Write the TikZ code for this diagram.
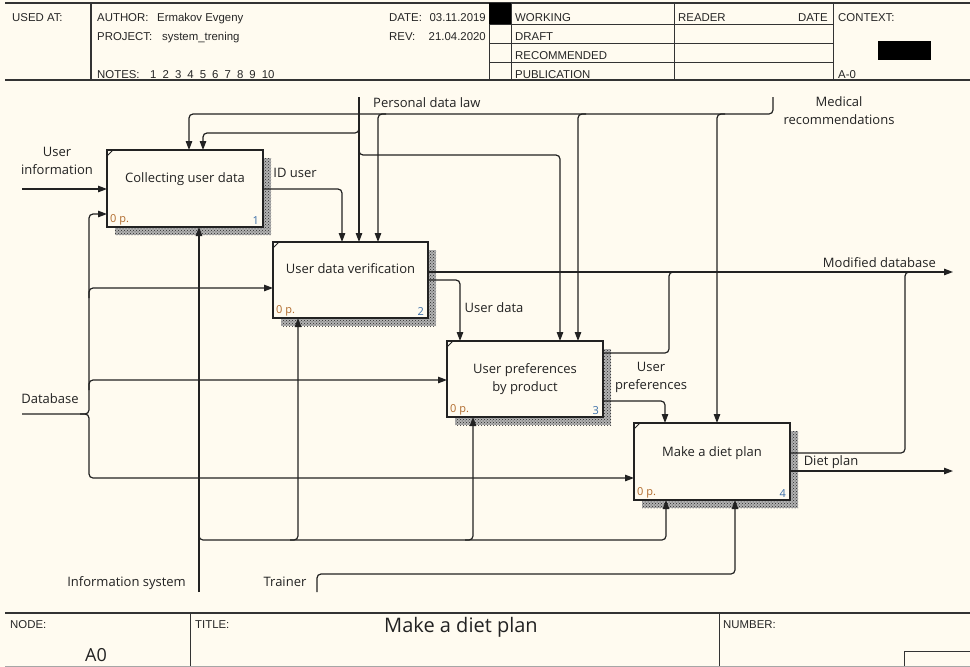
\documentclass[tikz,border=0pt]{standalone}
\usepackage{fontspec}
\setmainfont{Open Sans}
\newfontfamily\hdfont{Liberation Sans}
\usetikzlibrary{arrows.meta,patterns,calc}
\definecolor{bgc}{HTML}{FFFBF0}
\definecolor{ink}{HTML}{222222}
\definecolor{npcol}{HTML}{B06A2C}
\definecolor{nmcol}{HTML}{3B6EA8}
\newcommand\hdsize{\hdfont\fontsize{11.4}{13}\selectfont}
\newcommand\lbsize{\fontsize{13}{18}\selectfont}
\newcommand\npsize{\fontsize{11}{13}\selectfont}
\begin{document}
\begin{tikzpicture}[x=1pt,y=-1pt,
  ln/.style={line width=1.2pt, draw=ink, rounded corners=4pt},
  arr/.style={ln, -{Triangle[length=9pt,width=6.5pt]}},
  box/.style={draw=ink, line width=1.2pt, fill=bgc, inner sep=0pt, outer sep=0pt, text=ink, font=\lbsize, align=center},
  lbl/.style={inner sep=0pt, text=ink, font=\lbsize, align=center},
  hd/.style={inner sep=0pt, text=black!85, font=\hdsize, anchor=base west},
  hde/.style={hd, anchor=base east},
  hl/.style={draw=black!80, line width=0.8pt},
  hk/.style={draw=black!80, line width=1.4pt},
  shd/.style={pattern=crosshatch dots, pattern color=black!85},
  np/.style={inner sep=0pt, font=\npsize, text=npcol, anchor=south west},
  nm/.style={inner sep=0pt, font=\npsize, text=nmcol, anchor=south east},
  crn/.style={draw=ink, line width=0.8pt}
]
\useasboundingbox (0,0) rectangle (970,667);
\fill[bgc] (0,0) rectangle (970,667);

% ---------- header ----------
\draw[hk] (5,3) -- (970,3);
\draw[hk] (5,80) -- (970,80);
\draw[hk] (91,3) -- (91,80);
\draw[hl] (489,3) -- (489,80);
\draw[hl] (511,3) -- (511,80);
\draw[hl] (674,3) -- (674,80);
\draw[hl] (833,3) -- (833,80);
\foreach \yy in {24,43,62} \draw[hl] (489,\yy) -- (833,\yy);
\fill[black] (489,3) rectangle (511,24);
\fill[black] (878,41) rectangle (931,60);

\node[hd] (hUsed) at (12,21.5) {USED AT:};
\node[hd] (hAuth) at (97,21.5) {AUTHOR:};
\node[hd] (hAuthV) at (157,21.5) {Ermakov Evgeny};
\node[hd] (hProj) at (97,40) {PROJECT:};
\node[hd] (hProjV) at (162,40) {system\_trening};
\node[hd] (hNotes) at (97,78) {NOTES:};
\foreach \k [count=\i from 0] in {1,2,3,4,5,6,7,8,9,10}
  \node[hd] (hN\k) at (150+12.4*\i,78) {\k};
\node[hd] (hDate) at (389,21.5) {DATE:};
\node[hde] (hDateV) at (486,21.5) {03.11.2019};
\node[hd] (hRev) at (389,40) {REV:};
\node[hde] (hRevV) at (486,40) {21.04.2020};
\node[hd] (hWork) at (515,21.5) {WORKING};
\node[hd] (hDraft) at (515,40) {DRAFT};
\node[hd] (hRec) at (515,59) {RECOMMENDED};
\node[hd] (hPub) at (515,78) {PUBLICATION};
\node[hd] (hReader) at (678,21.5) {READER};
\node[hde] (hRDate) at (828,21.5) {DATE};
\node[hd] (hCtx) at (838,21.5) {CONTEXT:};
\node[hd] (hA0) at (838,78) {A-0};

% ---------- footer ----------
\draw[hk] (5,613) -- (970,613);
\draw[hl] (190,613) -- (190,667);
\draw[hl] (719,613) -- (719,667);
\draw[hl] (904,667) -- (904,651) -- (970,651);
\draw[black!35, line width=0.8pt] (5,666) -- (970,666);
\node[hd] (fNode) at (10,628) {NODE:};
\node[hd] (fTitle) at (195,628) {TITLE:};
\node[hd] (fNum) at (723,628) {NUMBER:};
\node[inner sep=0pt, text=ink, font=\fontsize{18}{20}\selectfont] (fA0) at (96,655) {A0};
\node[inner sep=0pt, text=ink, font=\fontsize{20}{22}\selectfont] (fMain) at (461,627) {Make a diet plan};

% ---------- shadows ----------
\fill[black!30] (115,158) rectangle (271,235);
\fill[shd] (115,158) rectangle (271,235);
\fill[black!30] (281,250) rectangle (436,326);
\fill[shd] (281,250) rectangle (436,326);
\fill[black!30] (455,349) rectangle (611,425);
\fill[shd] (455,349) rectangle (611,425);
\fill[black!30] (642,431) rectangle (798,508);
\fill[shd] (642,431) rectangle (798,508);

% ---------- boxes ----------
\node[box, minimum width=156pt, minimum height=77pt] (B1) at (185,188.5) {Collecting user data\\[4pt]};
\node[box, minimum width=155pt, minimum height=76pt] (B2) at (350.5,280) {User data verification\\[4pt]};
\node[box, minimum width=156pt, minimum height=76pt] (B3) at (525,379) {User preferences\\by product};
\node[box, minimum width=156pt, minimum height=77pt] (B4) at (712,461.5) {Make a diet plan\\[2pt]};

\foreach \b/\n in {B1/1,B2/2,B3/3,B4/4}{
  \draw[crn] ($(\b.north west)+(0,6)$) -- ($(\b.north west)+(6,0)$);
  \node[np] (\b p) at ($(\b.south west)+(3,-2)$) {0 p.};
  \node[nm] (\b n) at ($(\b.south east)+(-4,-2)$) {\n};
}

% ---------- free ends ----------
\coordinate (uiS) at (22,189);
\coordinate (pdS) at (359,97);
\coordinate (mrS) at (773,97);
\coordinate (dbS) at (22,414);
\coordinate (isS) at (199,592);
\coordinate (trS) at (317,592);
\coordinate (mdE) at (953,272);
\coordinate (dpE) at (953,471);

% ---------- connectors ----------
% User information
\draw[arr] (uiS) -- (B1.west |- uiS);
% Personal data law
\draw[arr] (pdS) -- (pdS |- B2.north);
\draw[arr] (359,122) -- (359,133) -- (203,133) -- (203,0 |- B1.north);
\draw[arr] (359,145) -- (359,155) -- (560,155) -- (560,0 |- B3.north);
% Medical recommendations
\draw[arr] (mrS) -- (773,114) -- (189,114) -- (189,0 |- B1.north);
\draw[arr] (386,114) -- (378,114) -- (378,0 |- B2.north);
\draw[arr] (586,114) -- (578,114) -- (578,0 |- B3.north);
\draw[arr] (725,114) -- (717,114) -- (717,0 |- B4.north);
% ID user
\draw[arr] (B1.east |- 0,189) -- (342,189) -- (342,0 |- B2.north);
% Database
\draw[arr] (dbS) -- (89,414) -- (89,214) -- (B1.west |- 0,214);
\draw[arr] (80,414) -- (89,414) -- (89,478) -- (B4.west |- 0,478);
\draw[arr] (89,298) -- (89,288) -- (B2.west |- 0,288);
\draw[arr] (89,390) -- (89,380) -- (B3.west |- 0,380);
% Information system
\draw[arr] (isS) -- (isS |- B1.south);
\draw[arr] (199,530) -- (199,540) -- (666,540) -- (666,0 |- B4.south);
\draw[arr] (290,540) -- (298,540) -- (298,0 |- B2.south);
\draw[arr] (465,540) -- (473,540) -- (473,0 |- B3.south);
% Trainer
\draw[arr] (trS) -- (317,574) -- (735,574) -- (735,0 |- B4.south);
% Modified database
\draw[arr] (B2.east |- mdE) -- (mdE);
\draw[ln] (B3.east |- 0,353) -- (669,353) -- (669,272) -- (677,272);
\draw[ln] (B4.east |- 0,453) -- (905,453) -- (905,272) -- (913,272);
% User data
\draw[arr] (B2.east |- 0,280) -- (460,280) -- (460,0 |- B3.north);
% User preferences
\draw[arr] (B3.east |- 0,401) -- (665,401) -- (665,0 |- B4.north);
% Diet plan
\draw[arr] (B4.east |- dpE) -- (dpE);

% ---------- labels ----------
\node[lbl] (lUI) at (57,161) {User\\information};
\node[lbl, anchor=west] (lPD) at (373,103) {Personal data law};
\node[lbl] (lMR) at (839,111) {Medical\\recommendations};
\node[lbl] (lID) at (295,173) {ID user};
\node[lbl] (lDB) at (50,399) {Database};
\node[lbl, anchor=east] (lIS) at (186,583) {Information system};
\node[lbl] (lTR) at (285,582) {Trainer};
\node[lbl, anchor=east] (lMD) at (936,263) {Modified database};
\node[lbl] (lUD) at (494,308) {User data};
\node[lbl] (lUP) at (651,377) {User\\preferences};
\node[lbl] (lDP) at (831,462) {Diet plan};
\end{tikzpicture}
\end{document}
